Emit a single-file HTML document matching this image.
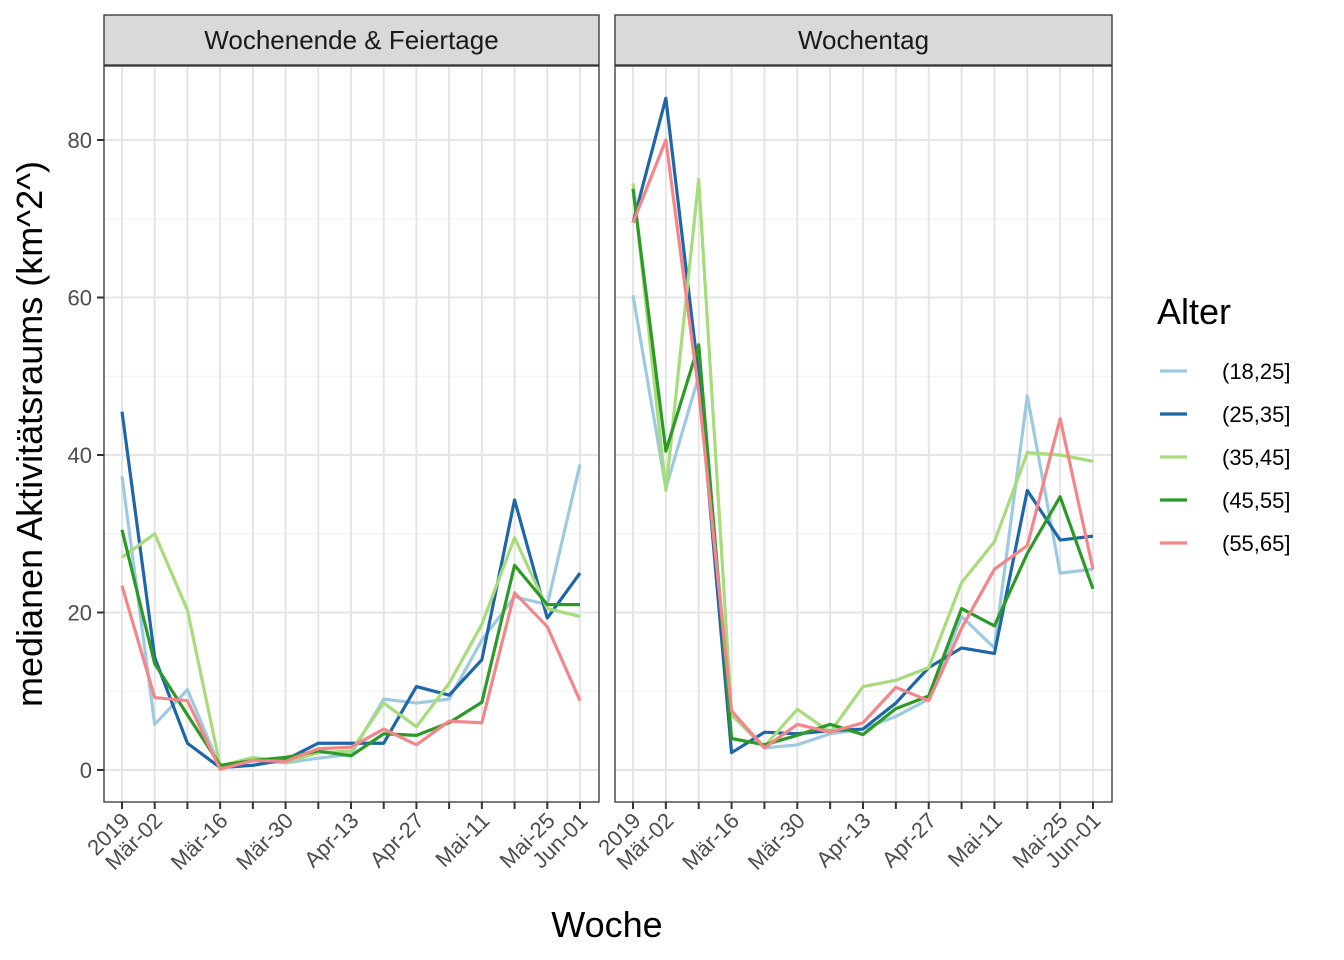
<!DOCTYPE html>
<html><head><meta charset="utf-8"><style>
body{margin:0;background:#fff;}
svg{display:block;font-family:"Liberation Sans",Arial,sans-serif;}
</style></head><body>
<svg id="chart" width="1344" height="960" xmlns="http://www.w3.org/2000/svg">
<text x="42" y="434" transform="rotate(-90 42 434)" text-anchor="middle" font-size="36" fill="#000">medianen Aktivitätsraums (km^2^)</text>
<text x="607" y="937" text-anchor="middle" font-size="36" fill="#000">Woche</text>
<text x="1157" y="324" font-size="36" fill="#000">Alter</text>
<g id="legend"></g>
<g id="panels"></g>
</svg>
<script>
const groups = ["(18,25]","(25,35]","(35,45]","(45,55]","(55,65]"];
const colors = ["#9ecae1","#1f66a8","#a6dc7a","#2b9a27","#f4868a"];
const facets = ["Wochenende & Feiertage","Wochentag"];
const weekLabels = ["2019","Mär-02","","Mär-16","","Mär-30","","Apr-13","","Apr-27","","Mai-11","","Mai-25","Jun-01"];
const yTicks = [0,20,40,60,80];
const wkndS1 = [37.3,5.8,10.2,0.3,1.2,0.9,1.5,2.0,9.0,8.5,9.0,16.5,22,21,38.8];
const wkndS2 = [45.5,14.3,3.4,0.3,0.6,1.3,3.4,3.4,3.4,10.6,9.5,14,34.3,19.3,25];
const wkndS3 = [27,30,20.3,0.5,1.6,1.0,2.2,2.4,8.5,5.5,11,18.5,29.5,20.5,19.5];
const wkndS4 = [30.5,13.5,7,0.6,1.2,1.6,2.4,1.8,4.6,4.4,6,8.6,26,21,21];
const wkndS5 = [23.4,9.2,8.8,0.1,1.2,1.1,2.7,2.9,5.2,3.2,6.2,6,22.5,18.2,8.8];
const wdayS1 = [60.3,35.8,50,7,2.8,3.2,4.6,5.2,6.8,9,19.5,15.5,47.5,25,25.5];
const wdayS2 = [69.5,85.3,50,2.2,4.8,4.6,5,5.2,8.5,13,15.5,14.8,35.5,29.2,29.7];
const wdayS3 = [74.5,35.5,75,7,3.0,7.7,4.8,10.6,11.4,13,23.8,29,40.3,40,39.2];
const wdayS4 = [73.8,40.5,54,4,3.2,4.4,5.8,4.5,7.8,9.4,20.5,18.3,27.5,34.7,23];
const wdayS5 = [69.5,80,48,7.5,2.8,5.8,4.8,6,10.5,8.8,18,25.5,28.5,44.6,25.5];
const facetData = [[wkndS1,wkndS2,wkndS3,wkndS4,wkndS5],[wdayS1,wdayS2,wdayS3,wdayS4,wdayS5]];

const NS="http://www.w3.org/2000/svg";
function mk(tag,attrs,parent){const e=document.createElementNS(NS,tag);for(const k in attrs)e.setAttribute(k,attrs[k]);parent.appendChild(e);return e;}
const plotTop=66,plotBot=802;
const yScale=v=>770-v*7.875;
const panelsG=document.getElementById('panels');
const pX=[[104,599],[615,1112]];
facets.forEach((f,fi)=>{
  const L=pX[fi][0], R=pX[fi][1];
  const x0=L+18, x1=R-19;
  const xScale=i=>x0+i*(x1-x0)/(weekLabels.length-1);
  const g=mk('g',{},panelsG);
  
  
  mk('rect',{x:L,y:plotTop,width:R-L,height:plotBot-plotTop,fill:'#fff'},g);
  for(let v=10;v<=90;v+=20){if(yScale(v)>plotTop)mk('line',{x1:L,x2:R,y1:yScale(v),y2:yScale(v),stroke:'#f0f0f0','stroke-width':1},g);}
  yTicks.forEach(v=>{mk('line',{x1:L,x2:R,y1:yScale(v),y2:yScale(v),stroke:'#e5e5e5','stroke-width':2},g);});
  weekLabels.forEach((l,i)=>{mk('line',{x1:xScale(i),x2:xScale(i),y1:plotTop,y2:plotBot,stroke:'#e5e5e5','stroke-width':2},g);});
  facetData[fi].forEach((s,si)=>{
    const p=mk('polyline',{points:s.map((v,i)=>xScale(i)+','+yScale(v)).join(' '),fill:'none',stroke:colors[si],'stroke-width':3.2,'stroke-linejoin':'round'},g);
    
    
  });
  mk('rect',{x:L,y:plotTop,width:R-L,height:plotBot-plotTop,fill:'none',stroke:'#333','stroke-width':1.3},g);
  mk('rect',{x:L,y:15,width:R-L,height:50,fill:'#d9d9d9',stroke:'#333','stroke-width':1.3},g);
  const st=mk('text',{x:(L+R)/2,y:49,'text-anchor':'middle','font-size':26,fill:'#1a1a1a'},g);
  st.textContent=f;
  
  
  weekLabels.forEach((l,i)=>{
    mk('line',{x1:xScale(i),x2:xScale(i),y1:plotBot,y2:plotBot+7,stroke:'#333','stroke-width':2},g);
    if(l){const tx=xScale(i)+9, ty=plotBot+20;
      const t=mk('text',{x:tx,y:ty,'text-anchor':'end','font-size':22,fill:'#4d4d4d',transform:'rotate(-45 '+tx+' '+ty+')'},g);
      t.textContent=l;
      
      }
  });
  if(fi===0){
    yTicks.forEach(v=>{
      mk('line',{x1:L-7,x2:L,y1:yScale(v),y2:yScale(v),stroke:'#333','stroke-width':2},g);
      const t=mk('text',{x:L-12,y:yScale(v)+8,'text-anchor':'end','font-size':22,fill:'#4d4d4d'},g);
      t.textContent=v;
      
      
    });
  }
});
const lg=document.getElementById('legend');
groups.forEach((gname,i)=>{
  const yy=371+i*43;
  const ln=mk('line',{x1:1160,x2:1187,y1:yy,y2:yy,stroke:colors[i],'stroke-width':3.2},lg);
  
  
  const t=mk('text',{x:1222,y:yy+8,'font-size':22,fill:'#000'},lg);
  t.textContent=gname;
  
  
});
</script>
</body></html>
